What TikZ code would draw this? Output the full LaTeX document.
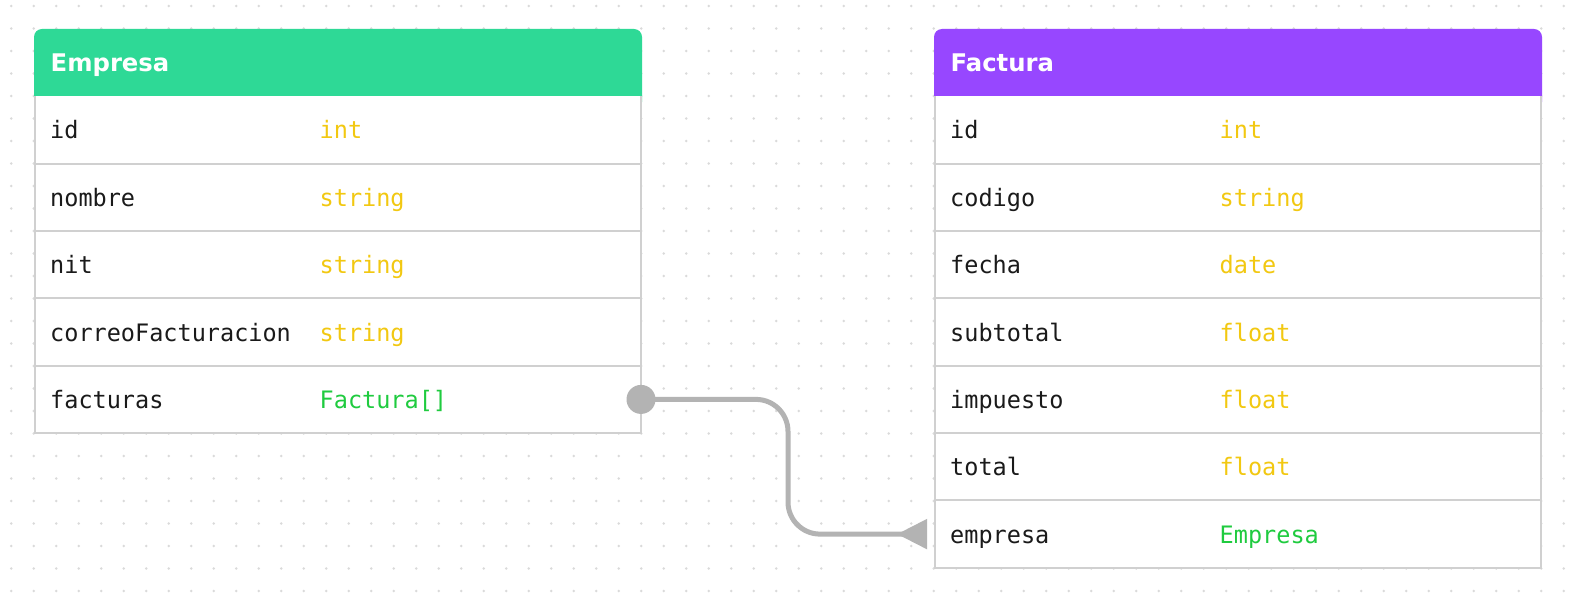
\documentclass[tikz,border=0pt]{standalone}
\usepackage{fontspec}
\setmainfont{DejaVu Sans}
\newfontfamily\monof[FakeStretch=0.98]{DejaVu Sans Mono}
\newfontfamily\titlef{DejaVu Sans}
\usetikzlibrary{arrows.meta}
\definecolor{empc}{HTML}{2ED996}
\definecolor{facc}{HTML}{9747FF}
\definecolor{typec}{HTML}{F2C811}
\definecolor{refc}{HTML}{1FCB3F}
\definecolor{txtc}{HTML}{1A1A1A}
\definecolor{bordc}{HTML}{D0D0D0}
\definecolor{connc}{HTML}{B3B3B3}
\definecolor{dotc}{HTML}{DADADA}
\tikzset{
  title/.style={anchor=base west, inner sep=0pt, text=white, font=\titlef\bfseries\fontsize{24.3}{28}\selectfont},
  fname/.style={anchor=base west, inner sep=0pt, text=txtc, font=\monof\fontsize{24}{28}\selectfont},
  ftype/.style={fname, text=typec},
  fref/.style={fname, text=refc},
  bord/.style={draw=bordc, line width=2pt},
  conn/.style={draw=connc, line width=5pt, rounded corners=32pt},
}
\begin{document}
\begin{tikzpicture}[x=1pt,y=-1pt]
\useasboundingbox (0,0) rectangle (1574,604);
\fill[white] (0,0) rectangle (1574,604);
\foreach \i in {0,...,69} \foreach \j in {0,...,26} \fill[dotc] (11.2+22.5*\i, 6+22.5*\j) circle[radius=1.4];
% Empresa table
\fill[empc, rounded corners=8pt] (34,29) rectangle (642,110);
\fill[white] (34,96.3) rectangle (642,434);
\foreach \y in {163.65,231,298.35,365.7} \draw[bord] (35,\y) -- (641,\y);
\draw[bord] (35,96.3) -- (35,433.05) -- (641,433.05) -- (641,96.3);
\node[title] (etitle) at (50.5,71.7) {Empresa};
\node[fname] (e1) at (50,139) {id};
\node[ftype] (e1t) at (319.5,139) {int};
\node[fname] (e2) at (50,206.4) {nombre};
\node[ftype] (e2t) at (319.5,206.4) {string};
\node[fname] (e3) at (50,273.7) {nit};
\node[ftype] (e3t) at (319.5,273.7) {string};
\node[fname] (e4) at (50,341.1) {correoFacturacion};
\node[ftype] (e4t) at (319.5,341.1) {string};
\node[fname] (e5) at (50,408.4) {facturas};
\node[fref] (e5t) at (319.5,408.4) {Factura[]};
% Factura table
\fill[facc, rounded corners=8pt] (934,29) rectangle (1542,110);
\fill[white] (934,96.3) rectangle (1542,569);
\foreach \y in {163.65,231,298.35,365.7,433.05,500.4} \draw[bord] (935,\y) -- (1541,\y);
\draw[bord] (935,96.3) -- (935,567.75) -- (1541,567.75) -- (1541,96.3);
\node[title] (ftitle) at (950.5,71.7) {Factura};
\node[fname] (f1) at (950,139) {id};
\node[ftype] (f1t) at (1219.5,139) {int};
\node[fname] (f2) at (950,206.4) {codigo};
\node[ftype] (f2t) at (1219.5,206.4) {string};
\node[fname] (f3) at (950,273.7) {fecha};
\node[ftype] (f3t) at (1219.5,273.7) {date};
\node[fname] (f4) at (950,341.1) {subtotal};
\node[ftype] (f4t) at (1219.5,341.1) {float};
\node[fname] (f5) at (950,408.4) {impuesto};
\node[ftype] (f5t) at (1219.5,408.4) {float};
\node[fname] (f6) at (950,475.8) {total};
\node[ftype] (f6t) at (1219.5,475.8) {float};
\node[fname] (f7) at (950,543.1) {empresa};
\node[fref] (f7t) at (1219.5,543.1) {Empresa};
% connector
\coordinate (src) at (641,399.4);
\coordinate (bend) at (788,467);
\coordinate (dst) at (927,534.1);
\draw[conn, -{Triangle[reversed, length=30pt, width=29pt]}] (src) -| (bend) |- (dst);
\fill[connc] (src) circle[radius=14.5];
\end{tikzpicture}
\end{document}
